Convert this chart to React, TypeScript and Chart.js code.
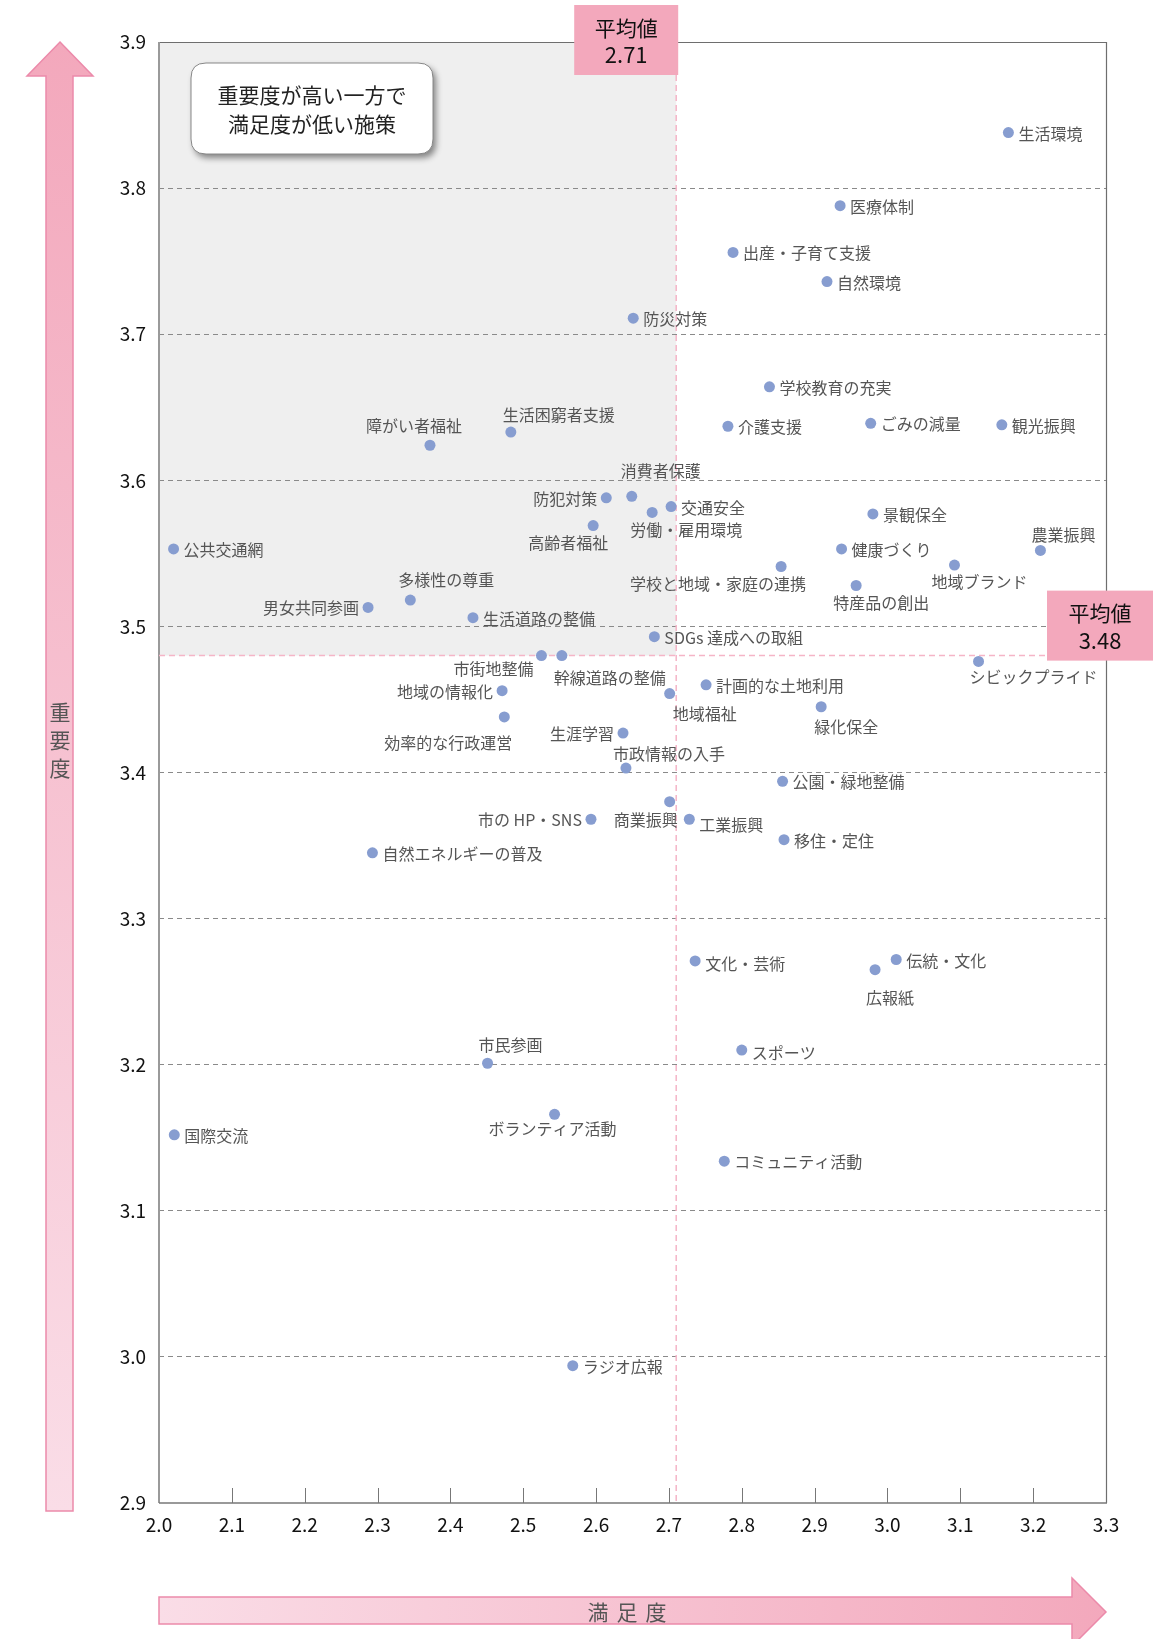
import React, { useEffect, useRef } from 'react';
import { Chart, registerables } from 'chart.js';

Chart.register(...registerables);

// ---------------- data ----------------
const names: string[] = [
  '生活環境', '医療体制', '出産・子育て支援', '自然環境', '防災対策',
  '学校教育の充実', '介護支援', 'ごみの減量', '観光振興', '障がい者福祉',
  '生活困窮者支援', '消費者保護', '防犯対策', '交通安全', '労働・雇用環境',
  '景観保全', '高齢者福祉', '公共交通網', '健康づくり', '農業振興',
  '学校と地域・家庭の連携', '地域ブランド', '特産品の創出', '多様性の尊重', '男女共同参画',
  '生活道路の整備', 'SDGs 達成への取組', '市街地整備', '幹線道路の整備', 'シビックプライド',
  '計画的な土地利用', '地域の情報化', '地域福祉', '緑化保全', '効率的な行政運営',
  '生涯学習', '市政情報の入手', '公園・緑地整備', '商業振興', '工業振興',
  '市の HP・SNS', '移住・定住', '自然エネルギーの普及', '文化・芸術', '伝統・文化',
  '広報紙', 'スポーツ', '市民参画', 'ボランティア活動', '国際交流',
  'コミュニティ活動', 'ラジオ広報',
];

// 満足度 (x)
const satisfaction: number[] = [
  3.166, 2.935, 2.788, 2.917, 2.651,
  2.838, 2.781, 2.977, 3.157, 2.372,
  2.483, 2.649, 2.614, 2.703, 2.677,
  2.980, 2.596, 2.020, 2.937, 3.210,
  2.854, 3.092, 2.957, 2.345, 2.287,
  2.431, 2.680, 2.525, 2.553, 3.125,
  2.751, 2.471, 2.701, 2.909, 2.474,
  2.637, 2.641, 2.856, 2.701, 2.728,
  2.593, 2.858, 2.293, 2.736, 3.012,
  2.983, 2.800, 2.451, 2.543, 2.021,
  2.776, 2.568,
];

// 重要度 (y)
const importance: number[] = [
  3.838, 3.788, 3.756, 3.736, 3.711,
  3.664, 3.637, 3.639, 3.638, 3.624,
  3.633, 3.589, 3.588, 3.582, 3.578,
  3.577, 3.569, 3.553, 3.553, 3.552,
  3.541, 3.542, 3.528, 3.518, 3.513,
  3.506, 3.493, 3.480, 3.480, 3.476,
  3.460, 3.456, 3.454, 3.445, 3.438,
  3.427, 3.403, 3.394, 3.380, 3.368,
  3.368, 3.354, 3.345, 3.271, 3.272,
  3.265, 3.210, 3.201, 3.166, 3.152,
  3.134, 2.994,
];

const avgSatisfaction = 2.71;
const avgImportance = 3.48;

const xTickLabels: string[] = ['2.0', '2.1', '2.2', '2.3', '2.4', '2.5', '2.6', '2.7', '2.8', '2.9', '3.0', '3.1', '3.2', '3.3'];
const yTickLabels: string[] = ['2.9', '3.0', '3.1', '3.2', '3.3', '3.4', '3.5', '3.6', '3.7', '3.8', '3.9'];

const xTitle = '満足度';
const yTitle = '重要度';
const noteLines = ['重要度が高い一方で', '満足度が低い施策'];
const avgLabel = '平均値';

// ---------------- label placement (style, not data) ----------------
type Place = { dx: number; dy: number; align: CanvasTextAlign };
const R: Place = { dx: 10, dy: 1, align: 'left' };
const L: Place = { dx: -9, dy: 1, align: 'right' };
const c = (dx: number, dy: number): Place => ({ dx, dy, align: 'center' });
const labelPlace: Record<string, Place> = {
  '障がい者福祉': c(-16, -19),
  '生活困窮者支援': c(48, -17),
  '消費者保護': c(29, -25),
  '防犯対策': L,
  '労働・雇用環境': c(34, 17),
  '高齢者福祉': c(-25, 17),
  '多様性の尊重': c(36, -20),
  '男女共同参画': L,
  '農業振興': c(23, -16),
  '学校と地域・家庭の連携': c(-63, 17),
  '地域ブランド': c(25, 17),
  '特産品の創出': c(25, 17),
  '市街地整備': c(-48, 13),
  '幹線道路の整備': c(48, 22),
  'シビックプライド': c(55, 15),
  '地域の情報化': L,
  '地域福祉': c(35, 20),
  '緑化保全': c(25, 20),
  '効率的な行政運営': c(-56, 26),
  '生涯学習': L,
  '市政情報の入手': c(43, -14),
  '商業振興': c(-24, 18),
  '工業振興': { dx: 10, dy: 6, align: 'left' },
  '市の HP・SNS': L,
  '文化・芸術': { dx: 10, dy: 3, align: 'left' },
  'スポーツ': { dx: 10, dy: 3, align: 'left' },
  '広報紙': c(15, 28),
  '市民参画': c(23, -18),
  'ボランティア活動': c(-2, 15),
};

const JP = '"Noto Sans CJK JP", "Noto Sans", sans-serif';
const PINK = '#F3A8BC';
const PINK_LIGHT = '#FADDE7';
const PINK_BORDER = '#EC8AAA';

function roundRect(ctx: CanvasRenderingContext2D, x: number, y: number, w: number, h: number, r: number) {
  ctx.beginPath();
  ctx.moveTo(x + r, y);
  ctx.lineTo(x + w - r, y);
  ctx.quadraticCurveTo(x + w, y, x + w, y + r);
  ctx.lineTo(x + w, y + h - r);
  ctx.quadraticCurveTo(x + w, y + h, x + w - r, y + h);
  ctx.lineTo(x + r, y + h);
  ctx.quadraticCurveTo(x, y + h, x, y + h - r);
  ctx.lineTo(x, y + r);
  ctx.quadraticCurveTo(x, y, x + r, y);
  ctx.closePath();
}

const decorPlugin = {
  id: 'decor',
  beforeDraw(chart: any) {
    const { ctx, chartArea: ca, scales } = chart;
    const x = scales.x, y = scales.y;
    ctx.save();
    ctx.fillStyle = '#ffffff';
    ctx.fillRect(0, 0, chart.width, chart.height);
    const ax = x.getPixelForValue(avgSatisfaction);
    const ay = y.getPixelForValue(avgImportance);
    ctx.fillStyle = '#efefef';
    ctx.fillRect(ca.left, ca.top, ax - ca.left, ay - ca.top);
    ctx.restore();
  },
  beforeDatasetsDraw(chart: any) {
    const { ctx, chartArea: ca, scales } = chart;
    const x = scales.x, y = scales.y;
    ctx.save();
    // frame
    ctx.strokeStyle = '#6e6e6e';
    ctx.lineWidth = 1.2;
    ctx.beginPath();
    ctx.moveTo(ca.left, ca.top + 0.5);
    ctx.lineTo(ca.right + 0.5, ca.top + 0.5);
    ctx.lineTo(ca.right + 0.5, ca.bottom);
    ctx.stroke();
    ctx.strokeStyle = '#9a9a9a';
    ctx.lineWidth = 2;
    ctx.beginPath();
    ctx.moveTo(ca.left, ca.top);
    ctx.lineTo(ca.left, ca.bottom);
    ctx.stroke();
    ctx.strokeStyle = '#777777';
    ctx.lineWidth = 1.5;
    ctx.beginPath();
    ctx.moveTo(ca.left, ca.bottom);
    ctx.lineTo(ca.right + 1, ca.bottom);
    ctx.stroke();
    // inner tick marks on x axis
    ctx.strokeStyle = '#777777';
    ctx.lineWidth = 1;
    x.ticks.forEach((t: any) => {
      if (t.value <= x.min + 1e-6 || t.value >= x.max - 1e-6) return;
      const px = Math.round(x.getPixelForValue(t.value)) + 0.5;
      ctx.beginPath();
      ctx.moveTo(px, ca.bottom);
      ctx.lineTo(px, ca.bottom - 15);
      ctx.stroke();
    });
    // average lines
    const ax = x.getPixelForValue(avgSatisfaction);
    const ay = y.getPixelForValue(avgImportance);
    ctx.strokeStyle = '#F5B5C7';
    ctx.lineWidth = 1.5;
    ctx.setLineDash([6, 4]);
    ctx.beginPath();
    ctx.moveTo(ax, 75);
    ctx.lineTo(ax, ca.bottom - 2);
    ctx.stroke();
    ctx.beginPath();
    ctx.moveTo(ca.left, ay);
    ctx.lineTo(ca.right - 58, ay);
    ctx.stroke();
    ctx.setLineDash([]);
    ctx.restore();
  },
  afterDraw(chart: any) {
    const { ctx, chartArea: ca, scales } = chart;
    const x = scales.x, y = scales.y;
    const meta = chart.getDatasetMeta(0);
    ctx.save();
    // point labels
    ctx.font = `16px ${JP}`;
    ctx.fillStyle = '#555555';
    ctx.textBaseline = 'middle';
    meta.data.forEach((pt: any, i: number) => {
      const name = names[i];
      const p = labelPlace[name] || R;
      ctx.textAlign = p.align;
      ctx.fillText(name, pt.x + p.dx, pt.y + p.dy);
    });

    // average boxes
    const ax = x.getPixelForValue(avgSatisfaction);
    const ay = y.getPixelForValue(avgImportance);
    ctx.fillStyle = PINK;
    ctx.fillRect(ax - 102, 5, 104, 70);
    ctx.fillRect(ca.right - 59, ay - 65, 106, 70);
    ctx.fillStyle = '#111111';
    ctx.textAlign = 'center';
    ctx.font = `21px ${JP}`;
    ctx.fillText(avgLabel, ax - 50, 28);
    ctx.fillText(avgLabel, ca.right - 6, ay - 43);
    ctx.font = `22px ${JP}`;
    ctx.fillText(avgSatisfaction.toFixed(2), ax - 50, 55);
    ctx.fillText(avgImportance.toFixed(2), ca.right - 6, ay - 15);

    // note box
    ctx.save();
    ctx.shadowColor = 'rgba(0,0,0,0.45)';
    ctx.shadowBlur = 6;
    ctx.shadowOffsetX = 3;
    ctx.shadowOffsetY = 4;
    roundRect(ctx, 191, 63, 242, 91, 15);
    ctx.fillStyle = '#ffffff';
    ctx.fill();
    ctx.restore();
    roundRect(ctx, 191, 63, 242, 91, 15);
    ctx.strokeStyle = '#888888';
    ctx.lineWidth = 1;
    ctx.stroke();
    ctx.fillStyle = '#222222';
    ctx.font = `21px ${JP}`;
    ctx.textAlign = 'center';
    ctx.fillText(noteLines[0], 312, 95);
    ctx.fillText(noteLines[1], 312, 124);

    // vertical arrow (重要度)
    const gy = ctx.createLinearGradient(0, 42, 0, 1511);
    gy.addColorStop(0, PINK);
    gy.addColorStop(1, PINK_LIGHT);
    ctx.beginPath();
    ctx.moveTo(60, 42);
    ctx.lineTo(93, 76);
    ctx.lineTo(73, 76);
    ctx.lineTo(73, 1511);
    ctx.lineTo(46, 1511);
    ctx.lineTo(46, 76);
    ctx.lineTo(27, 76);
    ctx.closePath();
    ctx.fillStyle = gy;
    ctx.fill();
    ctx.strokeStyle = PINK_BORDER;
    ctx.lineWidth = 1.5;
    ctx.stroke();
    ctx.fillStyle = '#555555';
    ctx.font = `21px ${JP}`;
    ctx.textAlign = 'center';
    Array.from(yTitle).forEach((ch, i) => ctx.fillText(ch, 60, 712 + i * 28));

    // horizontal arrow (満足度)
    const gx = ctx.createLinearGradient(ca.left, 0, 1106, 0);
    gx.addColorStop(0, PINK_LIGHT);
    gx.addColorStop(1, PINK);
    ctx.beginPath();
    ctx.moveTo(ca.left, 1597);
    ctx.lineTo(1072, 1597);
    ctx.lineTo(1072, 1578);
    ctx.lineTo(1106, 1612);
    ctx.lineTo(1072, 1646);
    ctx.lineTo(1072, 1624);
    ctx.lineTo(ca.left, 1624);
    ctx.closePath();
    ctx.fillStyle = gx;
    ctx.fill();
    ctx.strokeStyle = PINK_BORDER;
    ctx.stroke();
    ctx.fillStyle = '#555555';
    Array.from(xTitle).forEach((ch, i) => ctx.fillText(ch, 598 + i * 29, 1612));
    ctx.restore();
  },
};

export default function App() {
  const ref = useRef<HTMLCanvasElement | null>(null);
  useEffect(() => {
    if (!ref.current) return;
    const chart = new Chart(ref.current, {
      type: 'scatter',
      data: {
        datasets: [
          {
            label: '施策',
            data: names.map((_, i) => ({ x: satisfaction[i], y: importance[i] })),
            backgroundColor: '#879DD0',
            borderWidth: 0,
            pointRadius: 5.5,
            pointHoverRadius: 5.5,
          },
        ],
      },
      options: {
        animation: false,
        responsive: false,
        devicePixelRatio: 1,
        events: [],
        layout: { padding: { top: 42, right: 54, bottom: 0, left: 0 } },
        plugins: { legend: { display: false }, tooltip: { enabled: false } },
        scales: {
          x: {
            type: 'linear',
            min: 2.0,
            max: 3.3,
            afterFit: (s: any) => { s.height = 136; },
            ticks: {
              stepSize: 0.1,
              padding: 10,
              font: { family: JP, size: 19 },
              color: '#111111',
              callback: (v: any, i: number) => xTickLabels[i] ?? Number(v).toFixed(1),
            },
            grid: { display: false, drawTicks: false },
            border: { display: false },
          },
          y: {
            type: 'linear',
            min: 2.9,
            max: 3.9,
            afterFit: (s: any) => { s.width = 159; },
            ticks: {
              stepSize: 0.1,
              padding: 13,
              font: { family: JP, size: 19 },
              color: '#111111',
              callback: (v: any, i: number) => yTickLabels[i] ?? Number(v).toFixed(1),
            },
            grid: {
              drawTicks: false,
              lineWidth: 1,
              color: (ctx: any) => {
                const v = ctx.tick ? ctx.tick.value : 0;
                if (Math.abs(v - 3.9) < 1e-6 || Math.abs(v - 2.9) < 1e-6) return 'rgba(0,0,0,0)';
                return '#8a8a8a';
              },
            },
            border: { display: false, dash: [5, 4] },
          },
        },
      },
      plugins: [decorPlugin],
    });
    return () => chart.destroy();
  }, []);

  return (
    <div style={{ position: 'absolute', left: 0, top: 0, width: 1160, height: 1639, background: '#fff' }}>
      <canvas ref={ref} width={1160} height={1639} style={{ display: 'block', width: 1160, height: 1639 }} />
    </div>
  );
}
